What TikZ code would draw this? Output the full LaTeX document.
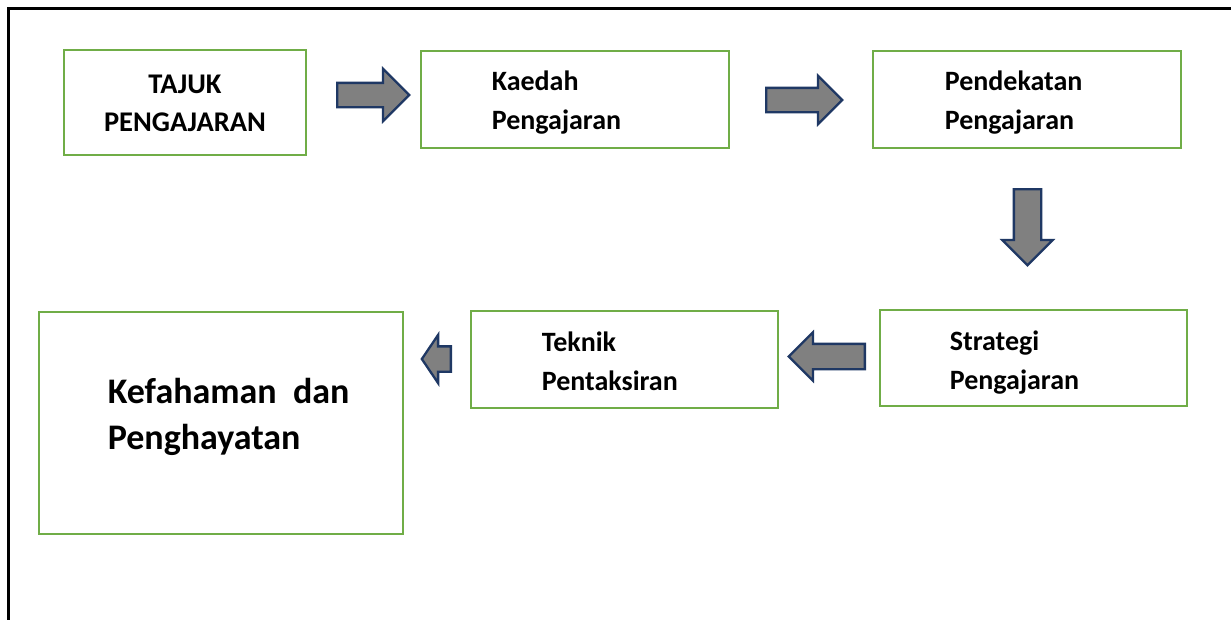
\documentclass[tikz,border=0pt]{standalone}
\usepackage{fontspec}
\setmainfont{Carlito}
\usetikzlibrary{shapes.arrows}
\definecolor{boxgreen}{RGB}{112,173,71}
\definecolor{arrownavy}{RGB}{31,56,100}
\definecolor{arrowgray}{RGB}{128,128,128}

\begin{document}
\begin{tikzpicture}[x=1pt, y=-1pt,
    stepbox/.style={draw=boxgreen, line width=2.8pt, inner sep=0pt},
    steptext/.style={anchor=west, align=left, inner sep=0pt, font=\bfseries\fontsize{28}{39}\selectfont},
    blockarrow/.style={single arrow, anchor=tail, draw=arrownavy, fill=arrowgray, line width=2.3pt,
      inner xsep=0pt, single arrow tip angle=90}]
      \clip (0, 0) rectangle (1231, 619);
      \fill[white] (0, 0) rectangle (1231, 619);
      \draw[line width=3pt] (8, 640) -- (8, 8) -- (1250, 8);
      % top row
      \node[stepbox, minimum width=242, minimum height=105] (tajuk) at (185, 102.5) {};
      \node[align=center, inner sep=0pt, font=\bfseries\fontsize{28.5}{38}\selectfont] (tajuk-txt) at ([yshift=-1pt]tajuk) {TAJUK\\PENGAJARAN};
      \node[stepbox, minimum width=308, minimum height=97] (kaedah) at (575, 99.5) {};
      \node[steptext] (kaedah-txt) at ([xshift=72pt, yshift=-3pt]kaedah.west) {Kaedah\\Pengajaran};
      \node[stepbox, minimum width=308, minimum height=97] (pendekatan) at (1027, 99.5) {};
      \node[steptext] (pendekatan-txt) at ([xshift=73pt, yshift=-3pt]pendekatan.west) {Pendekatan\\Pengajaran};
      % bottom row
      \node[stepbox, minimum width=307, minimum height=96] (strategi) at (1033.5, 358) {};
      \node[steptext] (strategi-txt) at ([xshift=71pt, yshift=-4.5pt]strategi.west) {Strategi\\Pengajaran};
      \node[stepbox, minimum width=307, minimum height=97] (teknik) at (624.5, 359.5) {};
      \node[steptext] (teknik-txt) at ([xshift=72pt, yshift=-2pt]teknik.west) {Teknik\\Pentaksiran};
      \node[stepbox, minimum width=364, minimum height=222] (faham) at (221, 423) {};
      \node[steptext, font=\bfseries\fontsize{36}{46}\selectfont] (faham-txt) at ([xshift=70pt, yshift=6pt]faham.west) {Kefahaman~~dan\\Penghayatan};
      % block arrows
      \node[blockarrow, minimum height=72, minimum width=52, inner ysep=11pt, single arrow head extend=14pt] (a1) at (336, 95) {};
      \node[blockarrow, minimum height=76, minimum width=48, inner ysep=11pt, single arrow head extend=12pt] (a2) at (765, 100) {};
      \node[blockarrow, rotate=-90, minimum height=76, minimum width=49, inner ysep=12.5pt, single arrow head extend=11.5pt] (a3) at (1027.5, 188) {};
      \node[blockarrow, rotate=180, minimum height=76, minimum width=47, inner ysep=11.5pt, single arrow head extend=11.5pt] (a4) at (866, 356.5) {};
      \node[blockarrow, rotate=180, minimum height=29, minimum width=46, inner ysep=11.5pt, single arrow head extend=11.5pt, single arrow tip angle=112] (a5) at (452, 359) {};
    \end{tikzpicture}
\end{document}
